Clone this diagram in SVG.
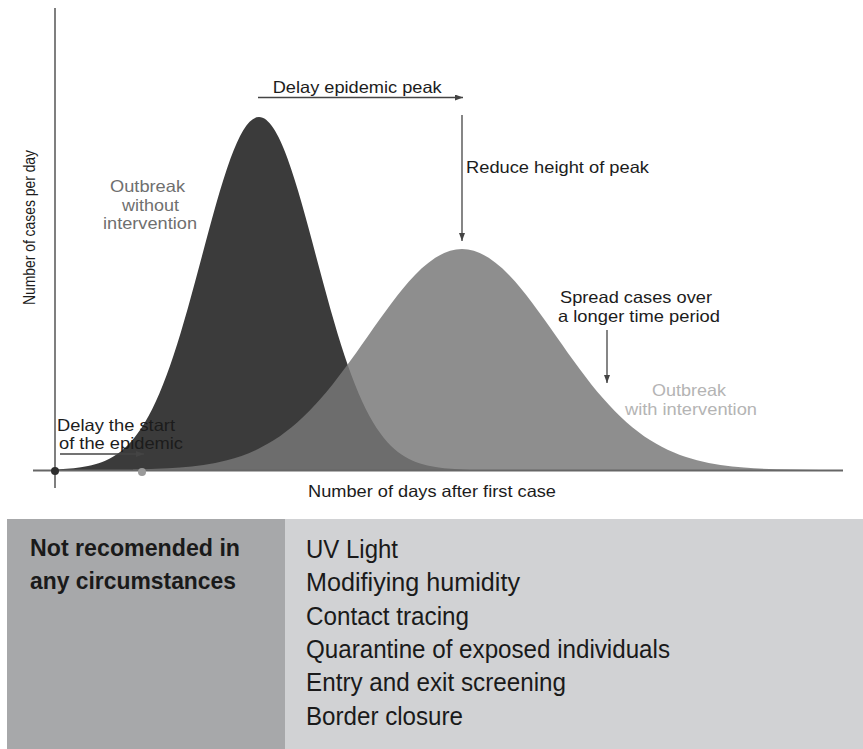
<svg xmlns="http://www.w3.org/2000/svg" width="863" height="749" viewBox="0 0 863 749">
<style>
.t{font-family:"Liberation Sans",Arial,sans-serif;font-size:16.5px;fill:#1c1c1c}
.g1{fill:#6f6f6f}
.g2{fill:#b4b4b4}
.tb{font-family:"Liberation Sans Narrow","Liberation Sans",Arial,sans-serif;font-size:26px;fill:#1a1a1a}
.bold{font-weight:bold;font-size:24px}
.arr{stroke:#444;stroke-width:1.3;fill:none;marker-end:url(#ah)}
</style>
<defs>
<marker id="ah" markerUnits="userSpaceOnUse" markerWidth="8" markerHeight="6" refX="8" refY="3" orient="auto">
<path d="M0,0 L8,3 L0,6 z" fill="#444"/>
</marker>
</defs>
<rect width="863" height="749" fill="#ffffff"/>

<g id="curve-without">
<path fill="#3b3b3b" d="M55,470 L59.5,469.23 C69,468.78 78.5,468.04 88,466.08 C97.5,464.12 107,460.95 116.5,454.49 C126,448.03 135.5,438.14 145,422.22 C154.5,406.3 164,384.05 173.5,355.4 C183,326.75 192.5,291.58 202,255.9 C211.5,220.22 221,184.44 230.5,158.48 C240,132.52 249.5,117 259,117 C268.5,117 278,132.52 287.5,158.48 C297,184.44 306.5,220.22 316,255.9 C325.5,291.58 335,326.75 344.5,355.4 C354,384.05 363.5,406.3 373,422.22 C382.5,438.14 392,448.03 401.5,454.49 C411,460.95 420.5,464.12 430,466.08 C439.5,468.04 449,468.78 458.5,469.23 L470,470 Z"/>
</g>
<g id="curve-with">
<path fill="#777777" fill-opacity="0.83" d="M133,470 L133,469.52 C148.67,469.24 164.33,468.77 180,467.54 C195.67,466.31 211.33,464.34 227,460.29 C242.67,456.24 258.33,450.06 274,440.09 C289.67,430.12 305.33,416.19 321,398.25 C336.67,380.32 352.33,358.3 368,335.96 C383.67,313.62 399.33,291.22 415,274.97 C430.67,258.72 446.33,249 462,249 C477.67,249 493.33,258.72 509,274.97 C524.67,291.22 540.33,313.62 556,335.96 C571.67,358.3 587.33,380.32 603,398.25 C618.67,416.19 634.33,430.12 650,440.09 C665.67,450.06 681.33,456.24 697,460.29 C712.67,464.34 728.33,466.31 744,467.54 C759.67,468.77 775.33,469.24 791,469.52 L820,470 Z"/>
</g>

<g id="axes">
<line x1="55" y1="8" x2="55" y2="488" stroke="#555" stroke-width="1.5"/>
<line x1="33" y1="470.5" x2="843" y2="470.5" stroke="#666" stroke-width="1.8"/>
<circle cx="55" cy="471" r="4" fill="#2e2e2e"/>
<circle cx="142" cy="472" r="4" fill="#9a9a9a"/>
</g>

<g id="connectors">
<line class="arr" x1="258" y1="97.5" x2="463" y2="97.5"/>
<line class="arr" x1="462" y1="115" x2="462" y2="241"/>
<line class="arr" x1="607" y1="330" x2="607" y2="383"/>
<line class="arr" x1="60" y1="454" x2="144" y2="454"/>
</g>

<g id="labels">
<text class="t" x="272.7" y="93" textLength="169" lengthAdjust="spacingAndGlyphs">Delay epidemic peak</text>
<text class="t" x="466" y="173" textLength="183" lengthAdjust="spacingAndGlyphs">Reduce height of peak</text>
<text class="t g1" x="110" y="192" textLength="75" lengthAdjust="spacingAndGlyphs">Outbreak</text>
<text class="t g1" x="122" y="211" textLength="57" lengthAdjust="spacingAndGlyphs">without</text>
<text class="t g1" x="103" y="229" textLength="94" lengthAdjust="spacingAndGlyphs">intervention</text>
<text class="t" x="560" y="303" textLength="152" lengthAdjust="spacingAndGlyphs">Spread cases over</text>
<text class="t" x="558" y="322" textLength="162" lengthAdjust="spacingAndGlyphs">a longer time period</text>
<text class="t g2" x="652" y="396" textLength="74" lengthAdjust="spacingAndGlyphs">Outbreak</text>
<text class="t g2" x="625" y="415" textLength="132" lengthAdjust="spacingAndGlyphs">with intervention</text>
<text class="t" x="57" y="431" textLength="118" lengthAdjust="spacingAndGlyphs">Delay the start</text>
<text class="t" x="59" y="449" textLength="124" lengthAdjust="spacingAndGlyphs">of the epidemic</text>
<text class="t" x="308" y="497" textLength="248" lengthAdjust="spacingAndGlyphs">Number of days after first case</text>
<text class="t" transform="translate(34.5,305) rotate(-90)" x="0" y="0" textLength="155" lengthAdjust="spacingAndGlyphs">Number of cases per day</text>
</g>

<g id="table">
<rect x="7" y="519" width="278" height="230" fill="#a7a8aa"/>
<rect x="285" y="519" width="578" height="230" fill="#d1d2d4"/>
<text class="tb bold" x="30" y="556" textLength="210" lengthAdjust="spacingAndGlyphs">Not recomended in</text>
<text class="tb bold" x="30" y="589" textLength="206" lengthAdjust="spacingAndGlyphs">any circumstances</text>
<text class="tb" x="306" y="558" textLength="92" lengthAdjust="spacingAndGlyphs">UV Light</text>
<text class="tb" x="306" y="591.3" textLength="214" lengthAdjust="spacingAndGlyphs">Modifiying humidity</text>
<text class="tb" x="306" y="624.6" textLength="163" lengthAdjust="spacingAndGlyphs">Contact tracing</text>
<text class="tb" x="306" y="658" textLength="364" lengthAdjust="spacingAndGlyphs">Quarantine of exposed individuals</text>
<text class="tb" x="306" y="691.2" textLength="260" lengthAdjust="spacingAndGlyphs">Entry and exit screening</text>
<text class="tb" x="306" y="724.5" textLength="157" lengthAdjust="spacingAndGlyphs">Border closure</text>
</g>
</svg>
